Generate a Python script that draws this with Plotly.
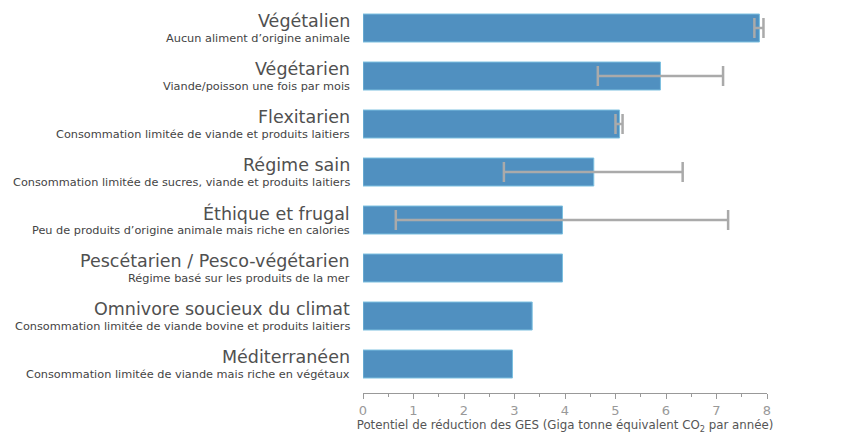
import plotly.graph_objects as go

categories = ["Végétalien", "Végétarien", "Flexitarien", "Régime sain",
              "Éthique et frugal", "Pescétarien / Pesco-végétarien",
              "Omnivore soucieux du climat", "Méditerranéen"]
subtitles = ["Aucun aliment d’origine animale",
             "Viande/poisson une fois par mois",
             "Consommation limitée de viande et produits laitiers",
             "Consommation limitée de sucres, viande et produits laitiers",
             "Peu de produits d’origine animale mais riche en calories",
             "Régime basé sur les produits de la mer",
             "Consommation limitée de viande bovine et produits laitiers",
             "Consommation limitée de viande mais riche en végétaux"]
values = [7.85, 5.89, 5.08, 4.57, 3.95, 3.95, 3.35, 2.96]
err_low = [7.75, 4.65, 5.0, 2.79, 0.65, None, None, None]
err_high = [7.93, 7.13, 5.14, 6.33, 7.23, None, None, None]
x_ticks = [0, 1, 2, 3, 4, 5, 6, 7, 8]

err_cats = [c for c, l in zip(categories, err_low) if l is not None]
err_vals = [v for v, l in zip(values, err_low) if l is not None]
plus = [h - v for h, v, l in zip(err_high, values, err_low) if l is not None]
minus = [v - l for l, v in zip(err_low, values) if l is not None]

fig = go.Figure()
fig.add_trace(go.Bar(
    x=values, y=categories, orientation="h", width=0.583,
    marker=dict(color="#5090c0", line=dict(color="#7cc0e0", width=1)),
    hoverinfo="skip", showlegend=False,
))
fig.add_trace(go.Scatter(
    x=err_vals, y=err_cats, mode="markers",
    marker=dict(size=1, opacity=0),
    error_x=dict(type="data", symmetric=False, array=plus, arrayminus=minus,
                 color="#aaaaaa", thickness=2.5, width=10),
    hoverinfo="skip", showlegend=False,
))

annotations = []
for c, s in zip(categories, subtitles):
    annotations.append(dict(x=0, xref="paper", y=c, yref="y", text=c,
                            xanchor="right", yanchor="middle", xshift=-11, yshift=7,
                            showarrow=False,
                            font=dict(family="DejaVu Sans", size=17.5, color="#505050")))
    annotations.append(dict(x=0, xref="paper", y=c, yref="y", text=s,
                            xanchor="right", yanchor="middle", xshift=-11, yshift=-10,
                            showarrow=False,
                            font=dict(family="DejaVu Sans", size=11.3, color="#444444")))

fig.update_layout(
    width=855, height=443,
    margin=dict(l=355, r=96, t=0, b=58),
    plot_bgcolor="white", paper_bgcolor="white",
    annotations=annotations,
    xaxis=dict(range=[0, 8], tickvals=x_ticks, showgrid=False, zeroline=False,
               showline=True, linecolor="#999999", linewidth=1,
               ticks="outside", ticklen=5, tickcolor="#999999",
               minor=dict(dtick=0.5, ticks="outside", ticklen=3, tickcolor="#999999"),
               tickfont=dict(family="DejaVu Sans", size=13, color="#999999"),
               title=dict(text="Potentiel de réduction des GES (Giga tonne équivalent CO<sub>2</sub> par année)",
                          font=dict(family="DejaVu Sans", size=11.8, color="#555555"),
                          standoff=4)),
    yaxis=dict(range=[7.604, -0.417], showticklabels=False, showgrid=False,
               zeroline=False, showline=False, ticks=""),
)

fig.write_html("out.html")
